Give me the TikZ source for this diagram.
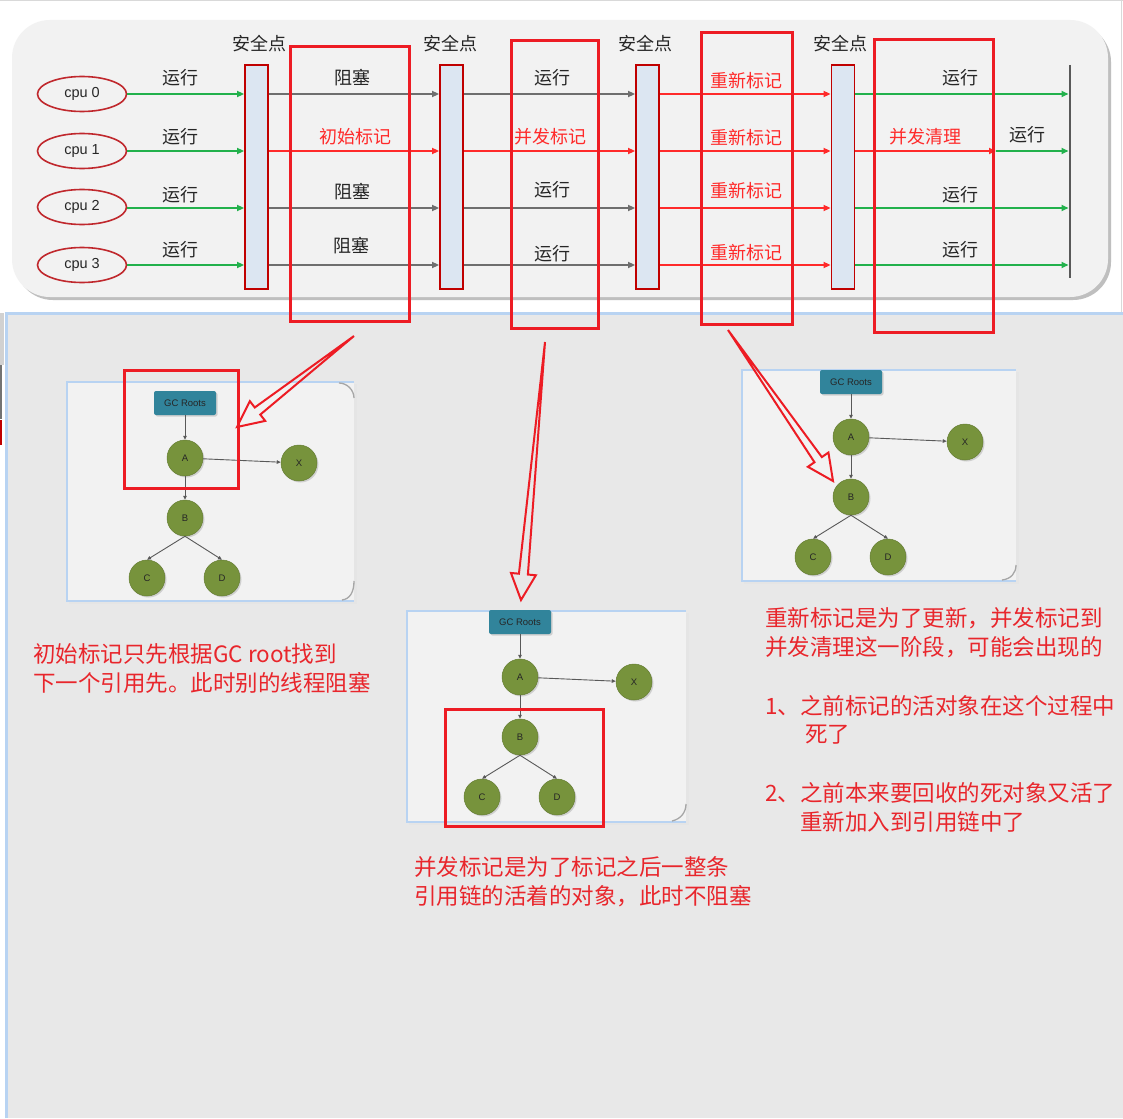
\documentclass[tikz,border=0pt]{standalone}
\usepackage{fontspec}
\setmainfont{Noto Sans CJK SC}
\newfontfamily\latinsf{Liberation Sans}
\usetikzlibrary{arrows.meta,calc,shapes.geometric,shadows}
\newcommand{\setfs}[1]{\fontsize{#1}{#1}\selectfont}
\definecolor{panelbg}{HTML}{F2F2F2}
\definecolor{lowbg}{HTML}{E8E8E8}
\definecolor{hlred}{HTML}{ED1C24}
\definecolor{textred}{HTML}{E8262C}
\definecolor{flowred}{HTML}{FF2A2A}
\definecolor{flowgreen}{HTML}{22B14C}
\definecolor{flowgray}{HTML}{6E6E6E}
\definecolor{barfill}{HTML}{DCE6F2}
\definecolor{barline}{HTML}{C00000}
\definecolor{cpured}{HTML}{C0282D}
\definecolor{nodegreen}{HTML}{77933C}
\definecolor{rootteal}{HTML}{31849B}
\definecolor{edgegray}{HTML}{595959}
\definecolor{panelblue}{HTML}{B8D3F2}
\newcommand{\gcgraph}[3]{%
  \begin{scope}[shift={(#2,#3)}]
    \node[gcroot] (#1gc) at (0,0) {GC Roots};
    \node[obj] (#1A) at (0,55) {A};
    \node[obj] (#1X) at (114,60) {X};
    \node[obj] (#1B) at (0,115) {B};
    \node[obj] (#1C) at (-38,175) {C};
    \node[obj] (#1D) at (37,175) {D};
    \draw[gedge] (#1gc) -- (#1A);
    \draw[gedge] (#1A) -- (#1X);
    \draw[gedge] (#1A) -- (#1B);
    \draw[gedge] (#1B.south) -- (#1C.north);
    \draw[gedge] (#1B.south) -- (#1D.north);
  \end{scope}}
\newcommand{\hollowarrow}[2]{%
  \coordinate (#2-hb) at ($(#2)!26pt!(#1)$);
  \draw[hollow] (#1) -- ($(#2-hb)!4.5pt!90:(#2)$) -- ($(#2-hb)!12.5pt!90:(#2)$) -- (#2)
    -- ($(#2-hb)!12.5pt!-90:(#2)$) -- ($(#2-hb)!4.5pt!-90:(#2)$) -- cycle;}
\begin{document}
\begin{tikzpicture}[x=1pt,y=-1pt,
  lab/.style={font=\setfs{18}, inner sep=0pt, text=black!85},
  redlab/.style={lab, text=flowred},
  note/.style={font=\setfs{22.5}, inner sep=0pt, text=textred, anchor=west},
  flow/.style={line width=1.6pt, -{Triangle[length=7pt,width=6pt]}},
  cpu/.style={ellipse, draw=cpured, line width=1.6pt, fill=panelbg, minimum width=89pt,
    minimum height=35pt, inner sep=0pt, font=\latinsf\setfs{14.5}, text=black!85},
  bar/.style={rectangle, draw=barline, line width=1.8pt, fill=barfill, minimum width=23pt,
    minimum height=224pt, inner sep=0pt},
  hl/.style={draw=hlred, line width=3pt},
  hollow/.style={draw=hlred, line width=2pt, line join=miter},
  obj/.style={circle, minimum size=36pt, inner sep=0pt, fill=nodegreen, draw=nodegreen!85!black,
    line width=0.5pt, font=\latinsf\setfs{9.5}, text=black!85,
    drop shadow={shadow xshift=1.5pt, shadow yshift=-1.5pt, opacity=0.3}},
  gcroot/.style={rectangle, rounded corners=2pt, minimum width=62pt, minimum height=24pt,
    inner sep=0pt, fill=rootteal, font=\latinsf\setfs{9.5}, text=black!85,
    drop shadow={shadow xshift=1.5pt, shadow yshift=-1.5pt, opacity=0.3}},
  gedge/.style={draw=edgegray, line width=0.9pt, -{Triangle[length=4pt,width=3.5pt]}},
  panelfill/.style={fill=panelbg},
  paneledge/.style={draw=panelblue, line width=1.8pt},
  corner/.style={draw=black!35, line width=1.3pt}
]
\useasboundingbox (0,0) rectangle (1123,1118);
\fill[white] (0,0) rectangle (1123,1118);
% lower background
\fill[lowbg] (6,313) rectangle (1123,1118);
\draw[panelblue, line width=3pt] (6,1118) -- (6,313) -- (1123,313);
\fill[black!18] (0,313) rectangle (4,365);
\fill[black!55] (0,365) rectangle (2,419);
\fill[barline] (0,420) rectangle (2,445);
\draw[black!15, line width=1pt] (0,1) -- (1123,1);
\draw[black!15, line width=1pt] (1121,0) -- (1121,312);

% top panel
\fill[black!25, rounded corners=38pt] (15,24) rectangle (1111,300);
\fill[panelbg, rounded corners=38pt] (12,20) rectangle (1108,297);

% rows
\coordinate (r0) at (0,94);
\coordinate (r1) at (0,151);
\coordinate (r2) at (0,208);
\coordinate (r3) at (0,265);

\node[cpu] (c0) at (82,94) {cpu 0};
\node[cpu] (c1) at (82,151) {cpu 1};
\node[cpu] (c2) at (82,207) {cpu 2};
\node[cpu] (c3) at (82,265) {cpu 3};

\node[bar] (b1) at (256.5,177) {};
\node[bar] (b2) at (451.5,177) {};
\node[bar] (b3) at (647.5,177) {};
\node[bar] (b4) at (843,177) {};

\node[lab] (s1) at (259,44) {安全点};
\node[lab] (s2) at (450,44) {安全点};
\node[lab] (s3) at (645,44) {安全点};
\node[lab] (s4) at (840,44) {安全点};

\coordinate (et) at (1070,65);
\coordinate (eb) at (1070,278);
\coordinate (split) at (996,151);

% segment cpu -> b1
\draw[flow, flowgreen] (c0.east |- r0) -- (b1.west |- r0);
\draw[flow, flowgreen] (c1.east |- r1) -- (b1.west |- r1);
\draw[flow, flowgreen] (c2.east |- r2) -- (b1.west |- r2);
\draw[flow, flowgreen] (c3.east |- r3) -- (b1.west |- r3);
% segment b1 -> b2
\draw[flow, flowgray] (b1.east |- r0) -- (b2.west |- r0);
\draw[flow, flowred] (b1.east |- r1) -- (b2.west |- r1);
\draw[flow, flowgray] (b1.east |- r2) -- (b2.west |- r2);
\draw[flow, flowgray] (b1.east |- r3) -- (b2.west |- r3);
% segment b2 -> b3
\draw[flow, flowgray] (b2.east |- r0) -- (b3.west |- r0);
\draw[flow, flowred] (b2.east |- r1) -- (b3.west |- r1);
\draw[flow, flowgray] (b2.east |- r2) -- (b3.west |- r2);
\draw[flow, flowgray] (b2.east |- r3) -- (b3.west |- r3);
% segment b3 -> b4
\draw[flow, flowred] (b3.east |- r0) -- (b4.west |- r0);
\draw[flow, flowred] (b3.east |- r1) -- (b4.west |- r1);
\draw[flow, flowred] (b3.east |- r2) -- (b4.west |- r2);
\draw[flow, flowred] (b3.east |- r3) -- (b4.west |- r3);
% segment b4 -> end
\draw[flow, flowgreen, shorten >=1.5pt] (b4.east |- r0) -- (et |- r0);
\draw[flow, flowred] (b4.east |- r1) -- (split);
\draw[flow, flowgreen, shorten >=1.5pt] (split) -- (et |- r1);
\draw[flow, flowgreen, shorten >=1.5pt] (b4.east |- r2) -- (et |- r2);
\draw[flow, flowgreen, shorten >=1.5pt] (b4.east |- r3) -- (et |- r3);
\draw[edgegray, line width=2.5pt] (et) -- (eb);

% top labels
\node[lab] (l00) at (180,78) {运行};
\node[lab] (l01) at (180,137) {运行};
\node[lab] (l02) at (180,195) {运行};
\node[lab] (l03) at (180,250) {运行};
\node[lab] (l10) at (352,78) {阻塞};
\node[redlab] (l11) at (355,137) {初始标记};
\node[lab] (l12) at (352,192) {阻塞};
\node[lab] (l13) at (351,246) {阻塞};
\node[lab] (l20) at (552,78) {运行};
\node[redlab] (l21) at (550,137) {并发标记};
\node[lab] (l22) at (552,190) {运行};
\node[lab] (l23) at (552,254) {运行};
\node[redlab] (l30) at (746,81) {重新标记};
\node[redlab] (l31) at (746,138) {重新标记};
\node[redlab] (l32) at (746,191) {重新标记};
\node[redlab] (l33) at (746,253) {重新标记};
\node[lab] (l40) at (960,78) {运行};
\node[redlab] (l41) at (925,137) {并发清理};
\node[lab] (l41b) at (1027,135) {运行};
\node[lab] (l42) at (960,195) {运行};
\node[lab] (l43) at (960,250) {运行};

% lower panels
\fill[black!10] (69,384) rectangle (357,604);
\fill[panelfill] (67,382) rectangle (354,601);
\draw[paneledge] (354,382) -- (67,382) -- (67,601) -- (354,601);
\draw[corner] (339,383) .. controls (347,383) and (354,390) .. (354,398);
\draw[corner] (354,581) .. controls (354,592) and (350,599) .. (342,600);
\gcgraph{p}{185}{403}

\fill[black!10] (409,613) rectangle (689,825);
\fill[panelfill] (407,611) rectangle (686,822);
\draw[paneledge] (686,611) -- (407,611) -- (407,822) -- (686,822);
\draw[corner] (686,804) .. controls (686,812) and (681,819) .. (672,821);
\gcgraph{q}{520}{622}

\fill[black!10] (744,372) rectangle (1019,584);
\fill[panelfill] (742,370) rectangle (1016,581);
\draw[paneledge] (1016,370) -- (742,370) -- (742,581) -- (1016,581);
\draw[corner] (1016,565) .. controls (1016,573) and (1011,579) .. (1002,580);
\gcgraph{s}{851}{382}

% highlight rectangles
\draw[hl] (290,47) rectangle (409,321);
\draw[hl] (511,41) rectangle (598,328);
\draw[hl] (701,33) rectangle (792,324);
\draw[hl] (874,40) rectangle (993,332);
\draw[hl] (124,370) rectangle (238,488);
\draw[hl] (445,709) rectangle (603,826);

% hollow arrows
\coordinate (t1) at (354,336);
\coordinate (p1) at (237,427);
\coordinate (t2) at (545,342);
\coordinate (p2) at (521,600);
\coordinate (t3) at (728,330);
\coordinate (p3) at (833,481);
\hollowarrow{t1}{p1}
\hollowarrow{t2}{p2}
\hollowarrow{t3}{p3}

% notes
\node[note] (n1a) at (33,654) {初始标记只先根据GC root找到};
\node[note] (n1b) at (33,683) {下一个引用先。此时别的线程阻塞};
\node[note] (n2a) at (414,867) {并发标记是为了标记之后一整条};
\node[note] (n2b) at (414,896) {引用链的活着的对象，此时不阻塞};
\node[note] (n3a) at (765,618) {重新标记是为了更新，并发标记到};
\node[note] (n3b) at (765,647) {并发清理这一阶段，可能会出现的};
\node[note] (n3c) at (765,706) {1、之前标记的活对象在这个过程中};
\node[note] (n3d) at (805,735) {死了};
\node[note] (n3e) at (765,793) {2、之前本来要回收的死对象又活了};
\node[note] (n3f) at (800,822) {重新加入到引用链中了};
\end{tikzpicture}
\end{document}
